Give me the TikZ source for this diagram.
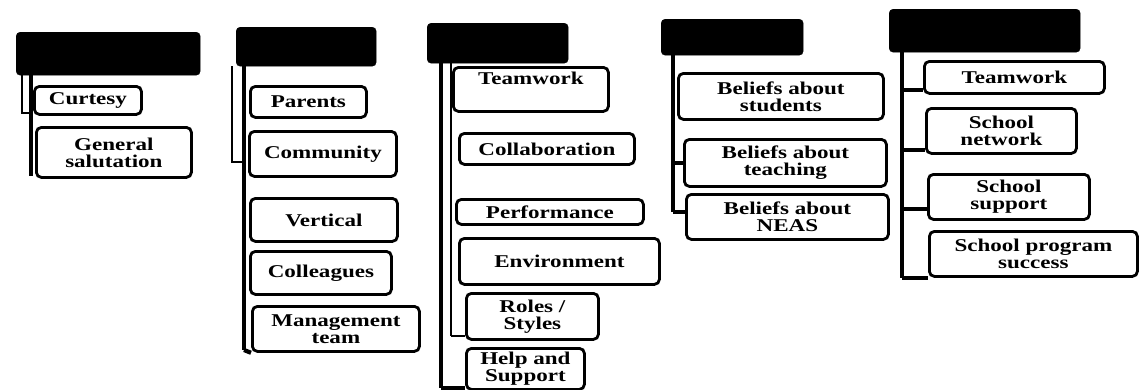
\documentclass[tikz,border=0pt]{standalone}
\usepackage{fontspec}
\setmainfont{Liberation Serif}[FakeStretch=1.28]
\begin{document}
\begin{tikzpicture}[x=1pt, y=-1pt,
  head/.style={draw=black, fill=black, rounded corners=4pt, anchor=north west},
  leaf/.style={draw=black, line width=2.8pt, rounded corners=5pt, fill=white, anchor=north west,
    align=center, inner sep=2pt, font=\fontsize{18}{17}\selectfont\bfseries},
  trunk/.style={line width=4.2pt},
  thin/.style={line width=1.8pt}]
\useasboundingbox (0,0) rectangle (1140,389);
% header boxes
\node [head, minimum width=184, minimum height=43] (h1) at (16,32) {};
\node [head, minimum width=140, minimum height=39] (h2) at (236,27) {};
\node [head, minimum width=141, minimum height=40] (h3) at (427,23) {};
\node [head, minimum width=142, minimum height=36] (h4) at (661,19) {};
\node [head, minimum width=191, minimum height=43] (h5) at (889,9) {};
% trunk lines
\coordinate (e1) at (31,176);
\coordinate (k1) at (22,113);
\coordinate (e2) at (244,350);
\coordinate (k2) at (232,162);
\coordinate (e3) at (441,388);
\coordinate (k3) at (451,336);
\coordinate (e4) at (673,212);
\coordinate (e5) at (902,278);
\draw [trunk] (h1.south -| e1) -- (e1);
\draw [thin] (h1.south -| k1) -- (k1) -- (k1 -| e1);
\draw [trunk] (h2.south -| e2) -- (e2);
\draw [thin] (h2.south -| k2) -- (k2) -- (k2 -| e2);
\draw [trunk] (h3.south -| e3) -- (e3);
\draw [thin] (h3.south -| k3) -- (k3);
\draw [trunk] (h4.south -| e4) -- (e4);
\draw [trunk] (h5.south -| e5) -- (e5);
% column 1
\node [leaf, minimum width=107, minimum height=28] (cur) at (33,85) {Curtesy};
\node [leaf, minimum width=155, minimum height=50] (gen) at (35,126) {General\\salutation};
% column 2
\node [leaf, minimum width=116, minimum height=31] (par) at (249,85) {Parents};
\node [leaf, minimum width=147, minimum height=45] (com) at (248,130) {Community};
\node [leaf, minimum width=147, minimum height=43] (ver) at (249,197) {Vertical};
\node [leaf, minimum width=141, minimum height=43] (col) at (249,250) {Colleagues};
\node [leaf, minimum width=167, minimum height=45] (man) at (251,305) {Management\\team};
% column 3
\node [leaf, minimum width=155, minimum height=44, text depth=22pt] (tw) at (452,66) {Teamwork};
\node [leaf, minimum width=175, minimum height=31] (cla) at (458,132) {Collaboration};
\node [leaf, minimum width=187, minimum height=25] (per) at (455,198) {Performance};
\node [leaf, minimum width=200, minimum height=46] (env) at (458,237) {Environment};
\node [leaf, minimum width=132, minimum height=46] (rol) at (465,292) {Roles /\\Styles};
\node [leaf, minimum width=118, minimum height=41] (hlp) at (465,347) {Help and\\Support};
% column 4
\node [leaf, minimum width=205, minimum height=46] (bst) at (677,72) {Beliefs about\\students};
\node [leaf, minimum width=202, minimum height=47] (bte) at (683,138) {Beliefs about\\teaching};
\node [leaf, minimum width=202, minimum height=45] (bne) at (685,193) {Beliefs about\\NEAS};
% column 5
\node [leaf, minimum width=180, minimum height=32] (tw5) at (923,60) {Teamwork};
\node [leaf, minimum width=150, minimum height=45] (snw) at (925,107) {School\\network};
\node [leaf, minimum width=161, minimum height=45] (ssp) at (927,173) {School\\support};
\node [leaf, minimum width=208, minimum height=45] (spg) at (928,230) {School program\\success};
% links from trunks to boxes
\draw [trunk] (e2) -- (man.south west);
\draw [thin] (k3) -- (rol.west |- k3);
\draw [trunk] (e3) -- (hlp.west |- e3);
\draw [trunk] (bte.west -| e4) -- (bte.west);
\draw [trunk] (e4) -- (bne.west |- e4);
\coordinate (s1) at ([yshift=5pt]tw5.south west);
\coordinate (s2) at ([yshift=5pt]snw.south west);
\coordinate (s3) at ([yshift=12pt]ssp.south west);
\draw [trunk] (s1 -| e5) -- (s1);
\draw [trunk] (s2 -| e5) -- (s2);
\draw [trunk] (s3 -| e5) -- (s3);
\draw [trunk] (e5) -- (spg.west |- e5);
\end{tikzpicture}
\end{document}
